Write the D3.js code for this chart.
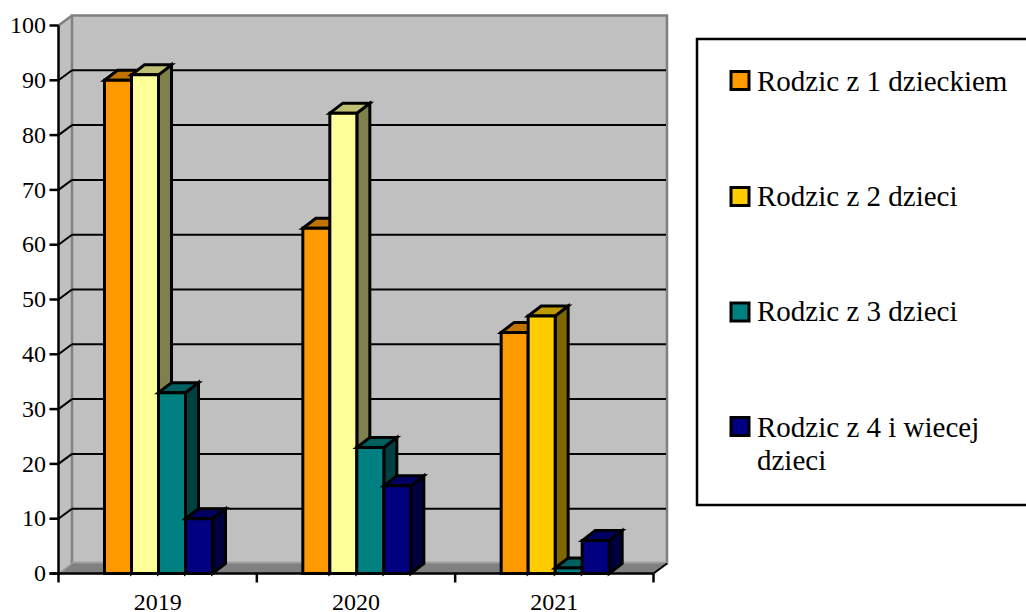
<!DOCTYPE html>
<html>
<head>
<meta charset="utf-8">
<script src="https://cdn.jsdelivr.net/npm/d3@7"></script>
<style>
  html, body { margin: 0; background: #fff; overflow: hidden; }
  svg { display: block; }
  text { font-family: "Liberation Serif", serif; fill: #000; }
</style>
</head>
<body>
<svg id="chart" width="1026" height="612"></svg>
<script>
"use strict";

const years = ["2019", "2020", "2021"];
const seriesNames = ["Rodzic z 1 dzieckiem", "Rodzic z 2 dzieci", "Rodzic z 3 dzieci", "Rodzic z 4 i wiecej dzieci"];
const parent1 = [90, 63, 44];
const parent2 = [91, 84, 47];
const parent3 = [33, 23, 1];
const parent4 = [10, 16, 6];
const yTicks = [0, 10, 20, 30, 40, 50, 60, 70, 80, 90, 100];

// the reference uses a paler yellow for the first two years
const legendColors = ["#ff9900", "#ffcc00", "#008080", "#000080"];
const seriesColors = [
  ["#ff9900", "#ff9900", "#ff9900"],
  ["#ffff99", "#ffff99", "#ffcc00"],
  ["#008080", "#008080", "#008080"],
  ["#000080", "#000080", "#000080"],
];
const seriesValues = [parent1, parent2, parent3, parent4];

const svg = d3.select("#chart");

const depthX = 13.5;
const depthY = -10;
const barDepthX = 13;
const x = d3.scaleBand().domain(years).range([58.5, 653.5]);
const y = d3.scaleLinear().domain([0, 100]).range([573.5, 25.5]);
const barWidth = 27;
const groupPad = 46;
const barStroke = 3;

const line = (a, b, c, d, col, w) =>
  svg.append("line").attr("x1", a).attr("y1", b).attr("x2", c).attr("y2", d)
    .attr("stroke", col).attr("stroke-width", w);
const poly = (pts, fill, stroke, w) =>
  svg.append("polygon").attr("points", pts.map((p) => p.join(",")).join(" "))
    .attr("fill", fill).attr("stroke", stroke).attr("stroke-width", w)
    .attr("stroke-linejoin", "miter");
// shaded faces, scaled towards black like the old office charts
const shade = (c, k) => {
  const o = d3.color(c);
  return d3.rgb(o.r * k, o.g * k, o.b * k).formatHex();
};

const x0 = x.range()[0], x1 = x.range()[1];
const yBase = y(0), yTop = y(100);

// walls and floor
poly([[x0, yBase], [x0 + depthX, yBase + depthY], [x0 + depthX, yTop + depthY], [x0, yTop]], "#c0c0c0", "none", 0);
poly([[x0 + depthX, yBase + depthY], [x1 + depthX, yBase + depthY], [x1 + depthX, yTop + depthY], [x0 + depthX, yTop + depthY]], "#c0c0c0", "#808080", 2.5);
poly([[x0, yBase], [x1, yBase], [x1 + depthX, yBase + depthY], [x0 + depthX, yBase + depthY]], "#808080", "none", 0);
line(x0 + depthX, yBase + depthY - 1, x1 + depthX, yBase + depthY - 1, "#a0a0a0", 2);
line(x0, yTop, x0 + depthX, yTop + depthY, "#808080", 2.5);
line(x0, yBase, x0 + depthX, yBase + depthY, "#a0a0a0", 1.5);

// gridlines
yTicks.slice(1, -1).forEach((t) => {
  line(x0, y(t), x0 + depthX, y(t) + depthY, "#000", 2);
  line(x0 + depthX, y(t) + depthY, x1 + depthX - 1, y(t) + depthY, "#000", 2);
});

// bars, left to right within each group
years.forEach((yr, i) => {
  seriesValues.forEach((vals, s) => {
    const left = x(yr) + groupPad + s * barWidth;
    const right = left + barWidth;
    const top = y(vals[i]);
    const col = seriesColors[s][i];
    poly([[right, yBase], [right + barDepthX, yBase + depthY], [right + barDepthX, top + depthY], [right, top]], shade(col, 0.5), "#000", barStroke);
    poly([[left, top], [left + barDepthX, top + depthY], [right + barDepthX, top + depthY], [right, top]], shade(col, 0.75), "#000", barStroke);
    poly([[left, yBase], [right, yBase], [right, top], [left, top]], col, "#000", barStroke);
  });
});

// axes
line(x0, yTop, x0, yBase, "#000", 2.5);
line(x0 - 9, yBase, x1, yBase, "#000", 2.5);
line(x1, yBase, x1 + depthX, yBase + depthY, "#000", 2);
yTicks.forEach((t) => {
  line(x0 - 9, y(t), x0, y(t), "#000", 2.5);
  svg.append("text").attr("x", 46).attr("y", y(t)).attr("dy", "0.32em")
    .attr("text-anchor", "end").attr("font-size", 24).text(t);
});
[...years.map((d) => x(d)), x1].forEach((px) => line(px, yBase, px, yBase + 9, "#000", 2.5));
years.forEach((yr) => {
  svg.append("text").attr("x", x(yr) + x.bandwidth() / 2).attr("y", 610)
    .attr("text-anchor", "middle").attr("font-size", 24).text(yr);
});

// legend, box runs off the right edge like the reference
svg.append("rect").attr("x", 697).attr("y", 39).attr("width", 340).attr("height", 466)
  .attr("fill", "#fff").attr("stroke", "#000").attr("stroke-width", 2.5);
const swatchY = [80.5, 196.5, 312, 426.5];
const baselineY = [91, 206, 321, 437];
seriesNames.forEach((name, i) => {
  svg.append("rect").attr("x", 731).attr("y", swatchY[i] - 9).attr("width", 18).attr("height", 18)
    .attr("fill", legendColors[i]).attr("stroke", "#000").attr("stroke-width", 3);
  const txt = svg.append("text").attr("x", 757).attr("font-size", 29);
  if (i === 3) {
    txt.append("tspan").attr("x", 757).attr("y", baselineY[i]).text("Rodzic z 4 i wiecej");
    txt.append("tspan").attr("x", 757).attr("y", baselineY[i] + 33).text("dzieci");
  } else {
    txt.attr("y", baselineY[i]).text(name);
  }
});
</script>
</body>
</html>
